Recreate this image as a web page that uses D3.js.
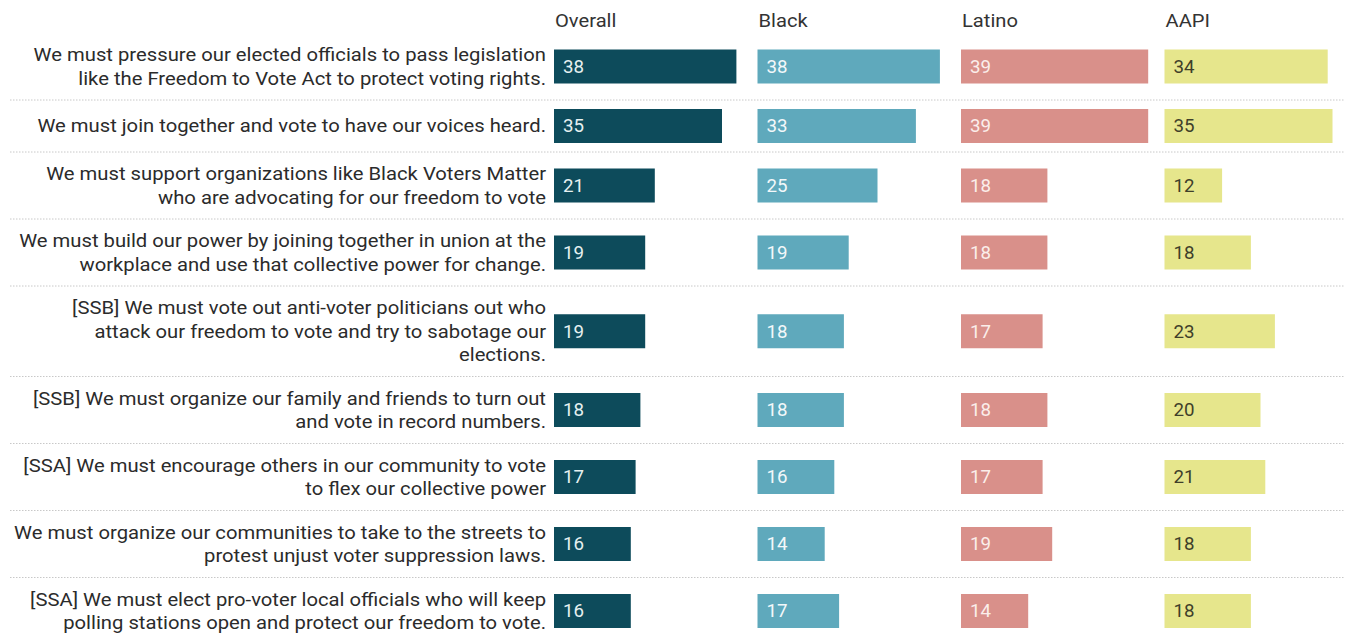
<!DOCTYPE html>
<html>
<head>
<meta charset="utf-8">
<script src="https://cdn.jsdelivr.net/npm/d3@7"></script>
<style>
  html, body { margin: 0; padding: 0; background: #fff; }
  svg { display: block; font-family: Roboto, "Noto Sans", sans-serif; }
</style>
</head>
<body>
<svg id="chart" width="1345" height="633"></svg>
<script>
// ---- data ----
const groups = ["Overall", "Black", "Latino", "AAPI"];
const statements = [
  ["We must pressure our elected officials to pass legislation", "like the Freedom to Vote Act to protect voting rights."],
  ["We must join together and vote to have our voices heard."],
  ["We must support organizations like Black Voters Matter", "who are advocating for our freedom to vote"],
  ["We must build our power by joining together in union at the", "workplace and use that collective power for change."],
  ["[SSB] We must vote out anti-voter politicians out who", "attack our freedom to vote and try to sabotage our", "elections."],
  ["[SSB] We must organize our family and friends to turn out", "and vote in record numbers."],
  ["[SSA] We must encourage others in our community to vote", "to flex our collective power"],
  ["We must organize our communities to take to the streets to", "protest unjust voter suppression laws."],
  ["[SSA] We must elect pro-voter local officials who will keep", "polling stations open and protect our freedom to vote."]
];
const overall = [38, 35, 21, 19, 19, 18, 17, 16, 16];
const black   = [38, 33, 25, 19, 18, 18, 16, 14, 17];
const latino  = [39, 39, 18, 18, 17, 18, 17, 19, 14];
const aapi    = [34, 35, 12, 18, 23, 20, 21, 18, 18];
const seriesValues = [overall, black, latino, aapi];

const barColors   = ["#0d4b5b", "#5fa9bc", "#d9908a", "#e6e68c"];
const labelColors = ["#e6f0f0", "#f3f8fa", "#fbeeea", "#3f3f2a"];

// ---- layout ----
const svg = d3.select("#chart");
const sx = 1.12; // horizontal stretch of the text in the reference
const lineH = 23.5;
const rowHeights = statements.map(l => Math.max(32, l.length * lineH) + 20);
const rowTops = [];
let acc = 33;
rowHeights.forEach(h => { rowTops.push(acc); acc += h; });
const idx = d3.range(statements.length);
const yTop = d3.scaleOrdinal(idx, rowTops);
const yH = d3.scaleOrdinal(idx, rowHeights);

const panelX = d3.scalePoint(groups, [554, 1164.5]);
const x = d3.scaleLinear([0, 40], [0, 192]);
const barH = 34;

// separators
svg.append("g").selectAll("line")
  .data(idx.slice(1))
  .join("line")
  .attr("x1", 10).attr("x2", 1345)
  .attr("y1", i => yTop(i)).attr("y2", i => yTop(i))
  .attr("stroke", "#c8c8c8").attr("stroke-width", 1)
  .attr("stroke-dasharray", "1.5,1.5");

// headers
svg.append("g").selectAll("text")
  .data(groups)
  .join("text")
  .attr("transform", g => `translate(${panelX(g) + 1},27) scale(${sx},1)`)
  .attr("font-size", 18)
  .attr("fill", "#333")
  .text(g => g);

// row labels
const lblG = svg.append("g").attr("transform", `translate(546,0) scale(${sx + 0.005},1)`);
const lbl = lblG.selectAll("text")
  .data(idx)
  .join("text")
  .attr("text-anchor", "end")
  .attr("font-size", 18)
  .attr("fill", "#2b2b2b");
lbl.each(function(i) {
  const lines = statements[i];
  const cy = yTop(i) + yH(i) / 2;
  const start = cy - (lines.length - 1) * lineH / 2;
  d3.select(this).selectAll("tspan")
    .data(lines)
    .join("tspan")
    .attr("x", 0)
    .attr("y", (d, k) => start + k * lineH)
    .attr("dy", "0.35em")
    .text(d => d);
});

// bars
groups.forEach((g, gi) => {
  const gg = svg.append("g");
  const vals = seriesValues[gi];
  gg.selectAll("rect")
    .data(idx)
    .join("rect")
    .attr("x", panelX(g))
    .attr("y", i => yTop(i) + yH(i) / 2 - barH / 2)
    .attr("width", i => x(vals[i]))
    .attr("height", barH)
    .attr("fill", barColors[gi]);
  gg.selectAll("text")
    .data(idx)
    .join("text")
    .attr("transform", i => `translate(${panelX(g) + 9},${yTop(i) + yH(i) / 2}) scale(1.04,1)`)
    .attr("dy", "0.36em")
    .attr("font-size", 18)
    .attr("fill", labelColors[gi])
    .text(i => vals[i]);
});
</script>
</body>
</html>
